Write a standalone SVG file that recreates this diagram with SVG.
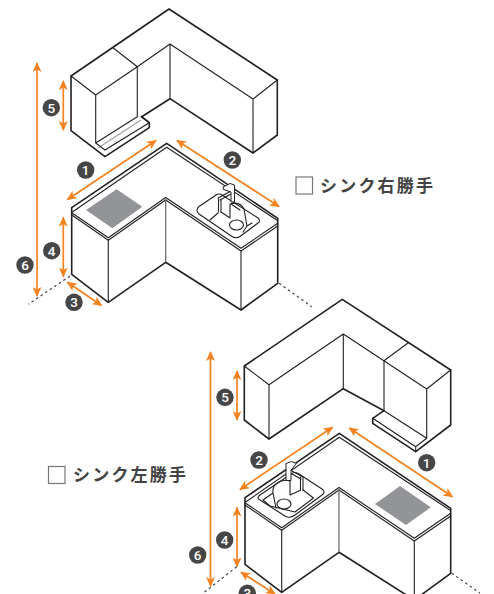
<svg xmlns="http://www.w3.org/2000/svg" width="494" height="594" viewBox="0 0 494 594">
<style>
.k{fill:none;stroke:#231f20;stroke-width:1.6;stroke-linejoin:round;stroke-linecap:round}
.t{fill:none;stroke:#231f20;stroke-width:1.1;stroke-linejoin:round;stroke-linecap:round}
.g{fill:none;stroke:#666;stroke-width:1.2}
.f{fill:#fff;stroke:#231f20;stroke-width:1;stroke-linejoin:round}
.a{fill:none;stroke:#f58220;stroke-width:1.7;marker-start:url(#h);marker-end:url(#h)}
.b{fill:#464646}
.n{fill:#fff;font:500 13.500px Roboto,"Liberation Sans",sans-serif;text-anchor:middle}
.d{fill:none;stroke:#444;stroke-width:1.200;stroke-dasharray:2.500 3}
.h{fill:#929497}
.c{fill:#fff;stroke:#777;stroke-width:1.200}
.l{fill:#444;font:700 17px "Noto Sans CJK JP",sans-serif;letter-spacing:2.200px}
</style>
<defs>
<marker id="h" markerUnits="userSpaceOnUse" markerWidth="12" markerHeight="9" refX="9" refY="4.500" orient="auto-start-reverse"><path d="M0 0L10 4.500L0 9L2.500 4.500Z" fill="#f58220"/></marker>
</defs>
<g id="wall-cabinet-right">
<path class="k" d="M71 76L169 9L277.300 80V135L253 153L170 98.700L141.700 116.700M71 76V130.700L105 156.700L149.300 127.700V122.700L141.700 116.700"/>
<path class="t" d="M71 76L95.700 95L137.300 66.700L170 44L253 99L277.300 80M113.300 48L137.300 66.700V116.700M170 44V98.700M95.700 95V143M253 99V153M137.300 116.700L95.700 143L105 150L149.300 122.700L141 116.700"/>
<path class="g" stroke-opacity=".6" d="M98 148L141 120"/>
</g>
<g id="base-cabinet-right">
<path class="k" d="M71.700 207.700L166.700 143.300L277.700 218.300V283.300L241 310L165.700 262.300L108.300 302.300L71.700 274.300Z"/>
<path class="t" d="M72.700 211.700L166.700 147.300L276.700 220M71.700 212.700L108.300 237.700L165.700 197.500L241 248.300L277.700 223.300M71.700 215L108.300 240.300L165.700 200L241 251L277.700 226"/>
<path class="t" d="M108.300 240V302.300M241 251V310"/>
<path class="g" d="M165.700 199V262.300"/>
<path class="h" d="M116.700 189.300L142.300 206.700L112.300 228.300L86 210Z"/>
<path class="t" d="M199 206.500L216 195Q219 193 222 195L258 218Q261 221 258 223L240 236.500Q236 239 232 236.500L199 214Q195 210 199 206.500Z"/>
<path class="t" d="M210 220L218 213M221 212L230 218V204Q240 201 244 209L247 226L252 223M247 226L243 232M231 204L240 210"/>
<ellipse class="t" cx="236.500" cy="225" rx="7" ry="5"/>
<path class="t" d="M218.500 199V212M221 199V212M218 198L231 191M220 200L231 194"/>
<path class="f" d="M223 187L230 183.500L234.500 185V202H231V192L223.500 189.500Z"/>
</g>
<g id="wall-cabinet-left">
<path class="k" d="M244.300 366L342.300 299.300L450.700 370V425L415.700 451.700L372.700 423.300V418.300L384 410.700L343.300 388.700L269 439L244.300 420Z"/>
<path class="t" d="M244.300 366L269 384.700L343.300 334L426.700 389L450.700 370M408.300 342.700L384 360.700V410.700M343.300 334V388.700M269 384.700V439M426.700 389V438.300M384 410.700L426.700 438.300L415.700 446.700L372.700 418.300M415.700 446.700V451.700"/>
</g>
<g id="base-cabinet-left">
<path class="k" d="M245 497.700L339.300 433.300L450.700 508.300V573.300L414.300 600L339 552.300L281.700 592.300L245 564.300Z"/>
<path class="t" d="M246 501.700L339.300 437.300L449.700 510M245 502.700L281.700 527.700L339 487.500L414.300 538.300L450.700 513.300M245 505L281.700 530.300L339 490L414.300 541L450.700 516"/>
<path class="t" d="M281.700 530V592.300M414.300 541V600"/>
<path class="g" d="M339 489V552.300"/>
<path class="h" d="M400 486L430.700 507.300L406 525L375 504Z"/>
<path class="t" d="M260 495L291 474Q295 471 299 474L322 489Q326 492 322 495L295 515Q290 519 285 516L260 500Q256 498 260 495Z"/>
<path class="t" d="M263 500L273 493Q272 485 279 482Q285 479 290 481V495L300 490.500M303 490L313.500 498L295 512L270 506M263 500L270 506M273 493L276 508"/>
<ellipse class="t" cx="284" cy="504" rx="7" ry="5"/>
<path class="t" d="M300.500 477V490.500M303 477V490.500M292 471L303 477M292 474L301 479"/>
<path class="f" d="M286 463.500L291.500 461.500L296.500 463.500L291 470V480.500H286Z"/>
</g>
<g id="connectors">
<path class="a" d="M37 63V296"/><path class="a" d="M63.300 81V130"/><path class="a" d="M67.500 199.500L156 140.500"/><path class="a" d="M177 140.500L279 206.500"/><path class="a" d="M63.300 217.500V276.500"/><path class="a" d="M67.500 282.300L101.500 305.500"/>
<path class="a" d="M210.500 352V586"/><path class="a" d="M237 371V420"/><path class="a" d="M240 489.500L332.500 427.300"/><path class="a" d="M349.300 428L452.500 496.800"/><path class="a" d="M237 507.500V566.500"/><path class="a" d="M241 572.300L275 594"/>
<path class="d" d="M70 276L28.300 304.300M279 283.300L311.700 306.700M236.700 566.700L203.300 593M451.700 573.300L480 593"/>
</g>
<g id="badge-1a"><circle class="b" cx="85.700" cy="170" r="8.700"/><text class="n" x="85.700" y="174.800">1</text></g>
<g id="badge-2a"><circle class="b" cx="232.300" cy="160" r="8.700"/><text class="n" x="232.300" y="164.800">2</text></g>
<g id="badge-3a"><circle class="b" cx="74" cy="302.300" r="8.700"/><text class="n" x="74" y="307.100">3</text></g>
<g id="badge-4a"><circle class="b" cx="51.700" cy="250.700" r="8.700"/><text class="n" x="51.700" y="255.500">4</text></g>
<g id="badge-5a"><circle class="b" cx="51.300" cy="107.700" r="8.700"/><text class="n" x="51.300" y="112.500">5</text></g>
<g id="badge-6a"><circle class="b" cx="25" cy="265" r="8.700"/><text class="n" x="25" y="269.800">6</text></g>
<g id="badge-1b"><circle class="b" cx="426.700" cy="462.700" r="8.700"/><text class="n" x="426.700" y="467.500">1</text></g>
<g id="badge-2b"><circle class="b" cx="259" cy="460" r="8.700"/><text class="n" x="259" y="464.800">2</text></g>
<g id="badge-3b"><circle class="b" cx="247.300" cy="593.300" r="8.700"/><text class="n" x="247.300" y="598.100">3</text></g>
<g id="badge-4b"><circle class="b" cx="224.700" cy="540" r="8.700"/><text class="n" x="224.700" y="544.800">4</text></g>
<g id="badge-5b"><circle class="b" cx="225" cy="397.300" r="8.700"/><text class="n" x="225" y="402.100">5</text></g>
<g id="badge-6b"><circle class="b" cx="197.700" cy="555" r="8.700"/><text class="n" x="197.700" y="559.800">6</text></g>
<g id="label-right"><rect class="c" x="296" y="177" width="16.500" height="17"/><text class="l" x="320" y="192">シンク右勝手</text></g>
<g id="label-left"><rect class="c" x="48.500" y="466.500" width="16.500" height="17"/><text class="l" x="73" y="481">シンク左勝手</text></g>
</svg>
